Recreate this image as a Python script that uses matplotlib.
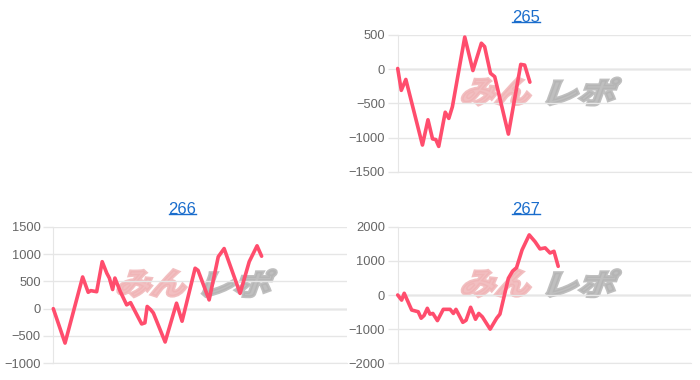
import matplotlib
matplotlib.use("Agg")
import matplotlib.pyplot as plt
from matplotlib.textpath import TextPath
from matplotlib.patches import PathPatch
from matplotlib.font_manager import FontProperties
from matplotlib.transforms import Affine2D
from matplotlib.lines import Line2D

# slot data: games played vs. coin difference
games_265 = [0, 110, 250, 760, 930, 1070, 1170, 1260, 1460, 1570, 1680, 2060, 2310,
             2570, 2670, 2850, 2980, 3400, 3780, 3900, 4060]
diff_265 = [10, -310, -150, -1110, -740, -1020, -1030, -1130, -630, -720, -550, 470, -20,
            380, 330, -60, -110, -950, 70, 60, -190]

games_266 = [0, 360, 900, 1070, 1150, 1330, 1500, 1640, 1720, 1820, 1890, 2050, 2250,
             2370, 2710, 2810, 2880, 2990, 3070, 3430, 3780, 3950, 4350, 4440, 4780,
             5060, 5240, 5730, 6010, 6250, 6390]
diff_266 = [0, -630, 580, 300, 330, 310, 860, 650, 560, 350, 560, 320, 70,
            110, -280, -260, 40, -20, -80, -610, 100, -230, 740, 700, 160,
            950, 1100, 280, 860, 1150, 960]

games_267 = [0, 120, 200, 430, 630, 720, 810, 910, 990, 1080, 1220, 1400, 1610, 1710,
             1790, 2000, 2100, 2240, 2390, 2490, 2600, 2840, 3040, 3140, 3400, 3530,
             3650, 3820, 4040, 4220, 4370, 4530, 4680, 4800, 4930]
diff_267 = [0, -150, 50, -440, -490, -680, -600, -390, -560, -540, -750, -420, -420, -540,
            -420, -800, -740, -360, -710, -540, -640, -1000, -680, -560, 490, 700,
            800, 1320, 1760, 1560, 1350, 1380, 1230, 1280, 840]

W, H = 700, 380
LINE = '#ff4d6d'
GRID = '#e6e6e6'
ZERO = '#bdbdbd'
LINK = '#1a6dcc'

fig = plt.figure(figsize=(W / 100, H / 100), dpi=100)
fig.patch.set_facecolor('white')


def add_logo(ax, left, top):
    # watermark, pixel coords measured from the top-left of the figure
    prop = FontProperties(family=['Noto Sans CJK JP', 'DejaVu Sans'], weight='heavy')
    for txt, x0, x1, col in [('みん', left, left + 77, '#f0b4b6'),
                             ('レポ', left + 86, left + 162, '#b4b4b4')]:
        path = TextPath((0, 0), txt, size=1, prop=prop)
        ext = path.get_extents()
        h = 27
        w = (x1 - x0) - h * 0.36
        tr = (Affine2D().translate(-ext.x0, -ext.y0)
              .scale(w / ext.width, h / ext.height)
              .skew_deg(20, 0)
              .translate(x0, H - top - h)
              .scale(1 / 100) + fig.dpi_scale_trans)
        ax.add_patch(PathPatch(path, transform=tr, facecolor=col, edgecolor=col,
                               lw=2.2, alpha=0.85, zorder=1.5))


charts = [
    ('265', games_265, diff_265, (-1500, 500), 500, (397.7, 35, 690.7, 171.7), 526, 21.5),
    ('266', games_266, diff_266, (-1000, 1500), 500, (53.3, 226.7, 346.7, 363.3), 182.5, 213.5),
    ('267', games_267, diff_267, (-2000, 2000), 1000, (397.7, 226.7, 690.7, 363.3), 526, 213.5),
]

titles = []
for name, xs, ys, ylim, step, box, tx, ty in charts:
    l, t, r, b = box
    ax = fig.add_axes([l / W, 1 - b / H, (r - l) / W, (b - t) / H])
    ax.plot(xs, ys, color=LINE, lw=2.6, solid_joinstyle='round', solid_capstyle='round',
            zorder=3, clip_on=False)
    ax.set_xlim(0, 9000)
    ax.set_ylim(*ylim)
    ax.set_yticks(range(ylim[0], ylim[1] + 1, step))
    ax.set_xticks([])
    ax.grid(axis='y', color=GRID, lw=1)
    ax.axhline(0, color=ZERO, lw=1, zorder=1)
    ax.tick_params(axis='y', length=7, width=1, color=GRID, pad=2,
                   labelsize=9.3, labelcolor='#666666')
    for s in ['top', 'right']:
        ax.spines[s].set_visible(False)
    for s in ['left', 'bottom']:
        ax.spines[s].set_color(GRID)
    for lab in ax.get_yticklabels():
        lab.set_fontfamily('Liberation Sans')
    add_logo(ax, l + 62, t + 43)
    titles.append(fig.text(tx / W, 1 - ty / H, name, ha='center', va='baseline',
                           fontsize=12, color=LINK, family='Liberation Sans'))

# underline the titles like links
fig.canvas.draw()
for tt in titles:
    bb = tt.get_window_extent()
    y = (bb.y0 + 2.5) / H
    fig.add_artist(Line2D([bb.x0 / W, bb.x1 / W], [y, y], color=LINK, lw=1))

fig.savefig('out.png', dpi=100)
